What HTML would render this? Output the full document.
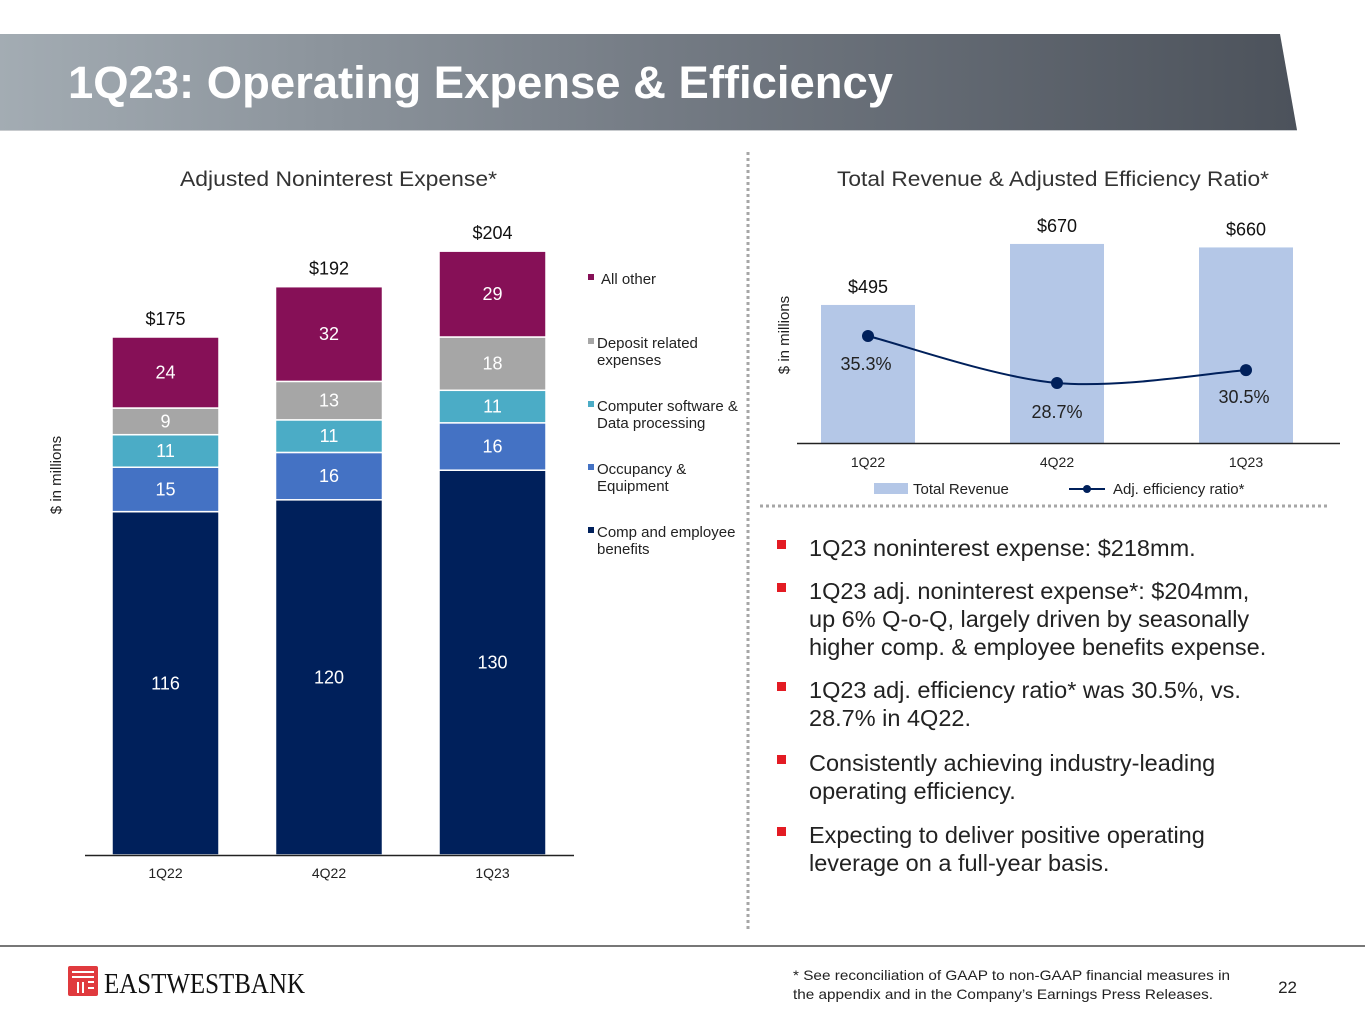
<!DOCTYPE html>
<html><head><meta charset="utf-8"><style>
html,body{margin:0;padding:0;background:#fff;}
svg{display:block;font-family:"Liberation Sans",Arial,sans-serif;}
</style></head><body>
<svg id="s" width="1365" height="1024" viewBox="0 0 1365 1024">
<defs>
<linearGradient id="hg" x1="0" x2="1" y1="0" y2="0">
<stop offset="0" stop-color="#A3ACB3"/><stop offset="0.5" stop-color="#757C85"/><stop offset="1" stop-color="#4C525B"/>
</linearGradient>
</defs>
<polygon points="0,34 1280,34 1297,130 0,130" fill="url(#hg)"/>
<line x1="0" y1="130.5" x2="1297" y2="130.5" stroke="#C8CBCE" stroke-width="1"/>
<text x="68" y="98" font-size="45" font-weight="bold" fill="#fff" textLength="825" lengthAdjust="spacingAndGlyphs">1Q23: Operating Expense &amp; Efficiency</text>

<line x1="748" y1="152" x2="748" y2="930" stroke="#A6A6A6" stroke-width="3" stroke-dasharray="3,3"/>
<line x1="760" y1="506" x2="1330" y2="506" stroke="#A6A6A6" stroke-width="3" stroke-dasharray="3,3"/>

<text x="180" y="186" font-size="21" fill="#333" textLength="317" lengthAdjust="spacingAndGlyphs">Adjusted Noninterest Expense*</text>
<text x="837" y="186" font-size="21" fill="#333" textLength="432" lengthAdjust="spacingAndGlyphs">Total Revenue &amp; Adjusted Efficiency Ratio*</text>

<g id="left"></g>
<g id="right"></g>

<text x="61" y="475" font-size="15" fill="#222" text-anchor="middle" transform="rotate(-90 61 475)">$ in millions</text>
<text x="789" y="335" font-size="15" fill="#222" text-anchor="middle" transform="rotate(-90 789 335)">$ in millions</text>

<g font-size="23.5" fill="#222">
<rect x="777" y="540" width="9" height="9" fill="#E31B23"/>
<text x="809" y="556">1Q23 noninterest expense: $218mm.</text>
<rect x="777" y="583" width="9" height="9" fill="#E31B23"/>
<text x="809" y="599">1Q23 adj. noninterest expense*: $204mm,</text>
<text x="809" y="627">up 6% Q-o-Q, largely driven by seasonally</text>
<text x="809" y="655">higher comp. &amp; employee benefits expense.</text>
<rect x="777" y="682" width="9" height="9" fill="#E31B23"/>
<text x="809" y="698">1Q23 adj. efficiency ratio* was 30.5%, vs.</text>
<text x="809" y="726">28.7% in 4Q22.</text>
<rect x="777" y="755" width="9" height="9" fill="#E31B23"/>
<text x="809" y="771">Consistently achieving industry-leading</text>
<text x="809" y="799">operating efficiency.</text>
<rect x="777" y="827" width="9" height="9" fill="#E31B23"/>
<text x="809" y="843">Expecting to deliver positive operating</text>
<text x="809" y="871">leverage on a full-year basis.</text>
</g>

<line x1="0" y1="946" x2="1365" y2="946" stroke="#777" stroke-width="2"/>
<g>
<rect x="68" y="966" width="30" height="30" fill="#E03A3E" rx="2"/>
<g stroke="#fff" stroke-width="2">
<line x1="72" y1="972" x2="94" y2="972"/><line x1="72" y1="977" x2="94" y2="977"/>
<line x1="78" y1="982" x2="78" y2="993"/><line x1="83" y1="982" x2="83" y2="993"/><line x1="88" y1="982" x2="94" y2="982"/><line x1="88" y1="988" x2="94" y2="988"/>
</g>
<text x="104" y="993" font-family="Liberation Serif,serif" font-size="29" fill="#111" textLength="201" lengthAdjust="spacingAndGlyphs">EASTWESTBANK</text>
</g>
<text x="793" y="980" font-size="14" fill="#222" textLength="437" lengthAdjust="spacingAndGlyphs">* See reconciliation of GAAP to non-GAAP financial measures in</text>
<text x="793" y="999" font-size="14" fill="#222" textLength="420" lengthAdjust="spacingAndGlyphs">the appendix and in the Company’s Earnings Press Releases.</text>
<text x="1297" y="993" font-size="17" fill="#222" text-anchor="end">22</text>
</svg>
<script>
const quarters = ["1Q22","4Q22","1Q23"];
const compBenefits = [116,120,130];
const occupancy = [15,16,16];
const software = [11,11,11];
const deposit = [9,13,18];
const allOther = [24,32,29];
const totals = ["$175","$192","$204"];
const revenue = [495,670,660];
const revenueLabels = ["$495","$670","$660"];
const effRatio = [35.3,28.7,30.5];
const effLabels = ["35.3%","28.7%","30.5%"];

const NS="http://www.w3.org/2000/svg";
function mk(tag,attrs,parent,txt){const e=document.createElementNS(NS,tag);for(const k in attrs)e.setAttribute(k,attrs[k]);if(txt!==undefined)e.textContent=txt;parent.appendChild(e);return e;}

const L=document.getElementById('left');
const lBase=855, lScale=2.96;
const lx=i=>112+i*163.5, lw=107;
const ly=v=>lBase-v*lScale;
const series=[
 {name:"comp-benefits",vals:compBenefits,color:"#00205B",label:"Comp and employee|benefits",ly:537},
 {name:"occupancy",vals:occupancy,color:"#4472C4",label:"Occupancy &|Equipment",ly:474},
 {name:"software",vals:software,color:"#4BACC6",label:"Computer software &|Data processing",ly:411},
 {name:"deposit",vals:deposit,color:"#A6A6A6",label:"Deposit related|expenses",ly:348},
 {name:"all-other",vals:allOther,color:"#861057",label:"All other",ly:284}
];
quarters.forEach((q,i)=>{
  let cum=0;
  series.forEach(s=>{
    const v=s.vals[i];
    const r=mk('rect',{x:lx(i),y:ly(cum+v),width:lw,height:v*lScale,fill:s.color,stroke:'#fff','stroke-width':1.5},L);
    
    
    const t=mk('text',{x:lx(i)+lw/2,y:ly(cum+v/2)+6,'font-size':18,fill:'#fff','text-anchor':'middle'},L,String(v));
    
    
    cum+=v;
  });
  const tt=mk('text',{x:lx(i)+lw/2,y:ly(cum)-12,'font-size':18,fill:'#111','text-anchor':'middle'},L,totals[i]);
  
  
  const xl=mk('text',{x:lx(i)+lw/2,y:878,'font-size':14,fill:'#222','text-anchor':'middle'},L,q);
  
  
});
const la=mk('line',{x1:85,x2:574,y1:lBase+0.5,y2:lBase+0.5,stroke:'#222','stroke-width':1.5},L);


series.forEach(s=>{
  const g=mk('g',{},L);
  
  
  mk('rect',{x:588,y:s.ly-10,width:6,height:6,fill:s.color},g);
  s.label.split('|').forEach((ln,k)=>mk('text',{x:k===0&&s.name==='all-other'?601:597,y:s.ly+k*17,'font-size':15,fill:'#222'},g,ln));
});

const R=document.getElementById('right');
const rBase=443, rA=0.3486, rMin=99;
const rx=i=>821+i*189, rw=94;
const ry=v=>rBase-(v-rMin)*rA;
const ey=v=>336+(35.3-v)*7.12;
quarters.forEach((q,i)=>{
  const r=mk('rect',{x:rx(i),y:ry(revenue[i]),width:rw,height:rBase-ry(revenue[i]),fill:'#B4C7E7'},R);
  
  
  const t=mk('text',{x:rx(i)+rw/2,y:ry(revenue[i])-12,'font-size':18,fill:'#111','text-anchor':'middle'},R,revenueLabels[i]);
  
  
  const xl=mk('text',{x:rx(i)+rw/2,y:467,'font-size':14,fill:'#222','text-anchor':'middle'},R,q);
  
  
});
const ra=mk('line',{x1:797,x2:1340,y1:rBase+0.5,y2:rBase+0.5,stroke:'#222','stroke-width':1.5},R);


const pts=quarters.map((q,i)=>[rx(i)+rw/2,ey(effRatio[i])]);
let d='M'+pts[0][0]+','+pts[0][1];
for(let i=0;i<pts.length-1;i++){
  const p0=pts[Math.max(0,i-1)],p1=pts[i],p2=pts[i+1],p3=pts[Math.min(pts.length-1,i+2)];
  const c1=[p1[0]+(p2[0]-p0[0])/6,p1[1]+(p2[1]-p0[1])/6];
  const c2=[p2[0]-(p3[0]-p1[0])/6,p2[1]-(p3[1]-p1[1])/6];
  d+=' C'+c1.join(',')+' '+c2.join(',')+' '+p2.join(',');
}
const line=mk('path',{d:d,fill:'none',stroke:'#00205B','stroke-width':2},R);


pts.forEach((p,i)=>{
  const c=mk('circle',{cx:p[0],cy:p[1],r:6,fill:'#00205B'},R);
  
  
  const t=mk('text',{x:p[0]+(i===0?-2:i===2?-2:0),y:p[1]+(i===1?35:i===2?33:34),'font-size':18,fill:'#222','text-anchor':'middle'},R,effLabels[i]);
  
  
});
const lg1=mk('g',{},R);


mk('rect',{x:874,y:483,width:34,height:11,fill:'#B4C7E7'},lg1);
mk('text',{x:913,y:494,'font-size':15,fill:'#222'},lg1,'Total Revenue');
const lg2=mk('g',{},R);


mk('line',{x1:1069,x2:1105,y1:489,y2:489,stroke:'#00205B','stroke-width':2},lg2);
mk('circle',{cx:1087,cy:489,r:4,fill:'#00205B'},lg2);
mk('text',{x:1113,y:494,'font-size':15,fill:'#222'},lg2,'Adj. efficiency ratio*');
</script>
</body></html>
